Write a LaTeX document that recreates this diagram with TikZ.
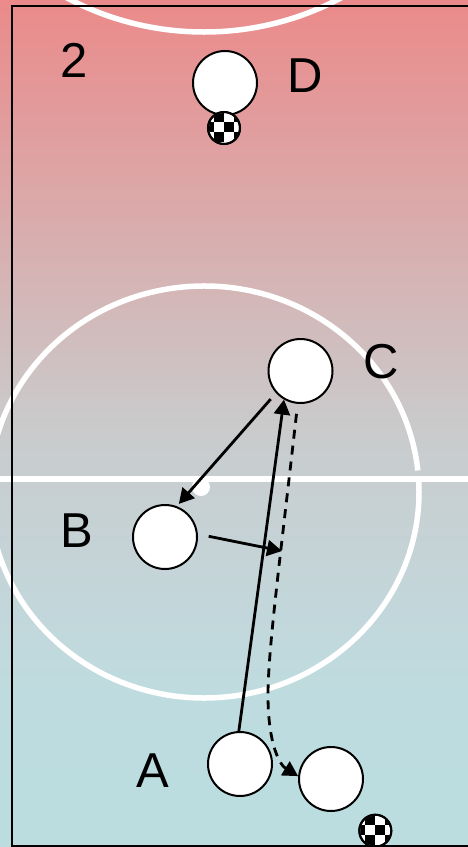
\documentclass[tikz,border=0pt]{standalone}
\usepackage{fontspec}
\setmainfont{Liberation Sans}
\usetikzlibrary{arrows.meta}
\definecolor{ptop}{HTML}{EB8A8A}
\definecolor{pmid}{HTML}{CACACB}
\definecolor{pa}{HTML}{C8CED0}
\definecolor{pb}{HTML}{C3D6DA}
\definecolor{pc}{HTML}{BEDCDF}
\definecolor{pbot}{HTML}{BBDDE0}
\pgfdeclareverticalshading{pitchbg}{100bp}{
  color(0bp)=(pbot); color(25bp)=(pbot); color(33.7bp)=(pc); color(39.6bp)=(pb); color(47.25bp)=(pa); color(50bp)=(pmid); color(75bp)=(ptop); color(100bp)=(ptop)}
\tikzset{
  player/.style={circle,draw=black,fill=white,line width=2pt,minimum size=64pt,inner sep=0pt},
  ballnode/.style={circle,draw=black,fill=white,line width=2pt,minimum size=32pt,inner sep=0pt},
  lbl/.style={inner sep=0pt,font=\fontsize{49}{49}\selectfont},
  pitch/.style={draw=white,line width=5.5pt},
  move/.style={draw=black,line width=2.8pt,-{Triangle[length=15pt,width=16pt]}},
  run/.style={move,dash pattern=on 9pt off 7pt}
}
\newcommand{\checkerball}[1]{%
  \begin{scope}
    \clip (#1) circle (15pt);
    \foreach \dx/\dy in {5/-1,-5/-11,-5/9,-15/-1,15/9,15/-11}{
      \fill[black] ([shift={(\dx-5,\dy-5)}]#1) rectangle ([shift={(\dx+5,\dy+5)}]#1);
    }
  \end{scope}
  \draw[black,line width=2pt] (#1) circle (16pt);
}
\begin{document}
\begin{tikzpicture}[x=1pt,y=-1pt]
\useasboundingbox (0,0) rectangle (468,847);
\clip (0,0) rectangle (468,847);
\shade[shading=pitchbg] (0,0) rectangle (468,847);
% pitch markings
\draw[pitch] (204,-260) circle (292);
\draw[pitch] (204,492) ++(-6:215 and 206) arc[start angle=-6,end angle=-180,x radius=215,y radius=206];
\draw[pitch] (204,492) ++(-3:215 and 206) arc[start angle=-3,end angle=180,x radius=215,y radius=206];
\draw[pitch,line width=6pt] (0,479) -- (468,479);
\fill[white] (201,487) circle (9);
% players
\node[player] (D) at (225,83) {};
\node[player] (C) at (300.5,371) {};
\node[player] (B) at (165,537) {};
\node[player] (A) at (240,764) {};
\node[player] (E) at (331,779) {};
% balls
\node[ballnode] (ballD) at (224,128) {};
\node[ballnode] (ballE) at (375.3,830.7) {};
\checkerball{ballD.center}
\checkerball{ballE.center}
% labels
\node[lbl] (t2) at (74,60.5) {2};
\node[lbl] (tD) at (305.5,75.5) {D};
\node[lbl] (tC) at (381,362) {C};
\node[lbl] (tB) at (76.5,530.5) {B};
\node[lbl] (tA) at (152.5,770.5) {A};
% connectors
\coordinate (pass) at (282,551);
\draw[move] (A.92) -- (C.240);
\draw[move,shorten <=8pt,shorten >=3pt] (C.222) -- (B.69);
\draw[move,shorten <=11pt] (B.5) -- (pass);
\draw[run,shorten <=10pt] (C.265) .. controls (280,560) and (268,650) .. (268,695)
   .. controls (268,745) and (280,765) .. (E.175);
% field border
\draw[black,line width=2pt] (480,6) -- (11.5,6) -- (11.5,846) -- (480,846);
\end{tikzpicture}
\end{document}
